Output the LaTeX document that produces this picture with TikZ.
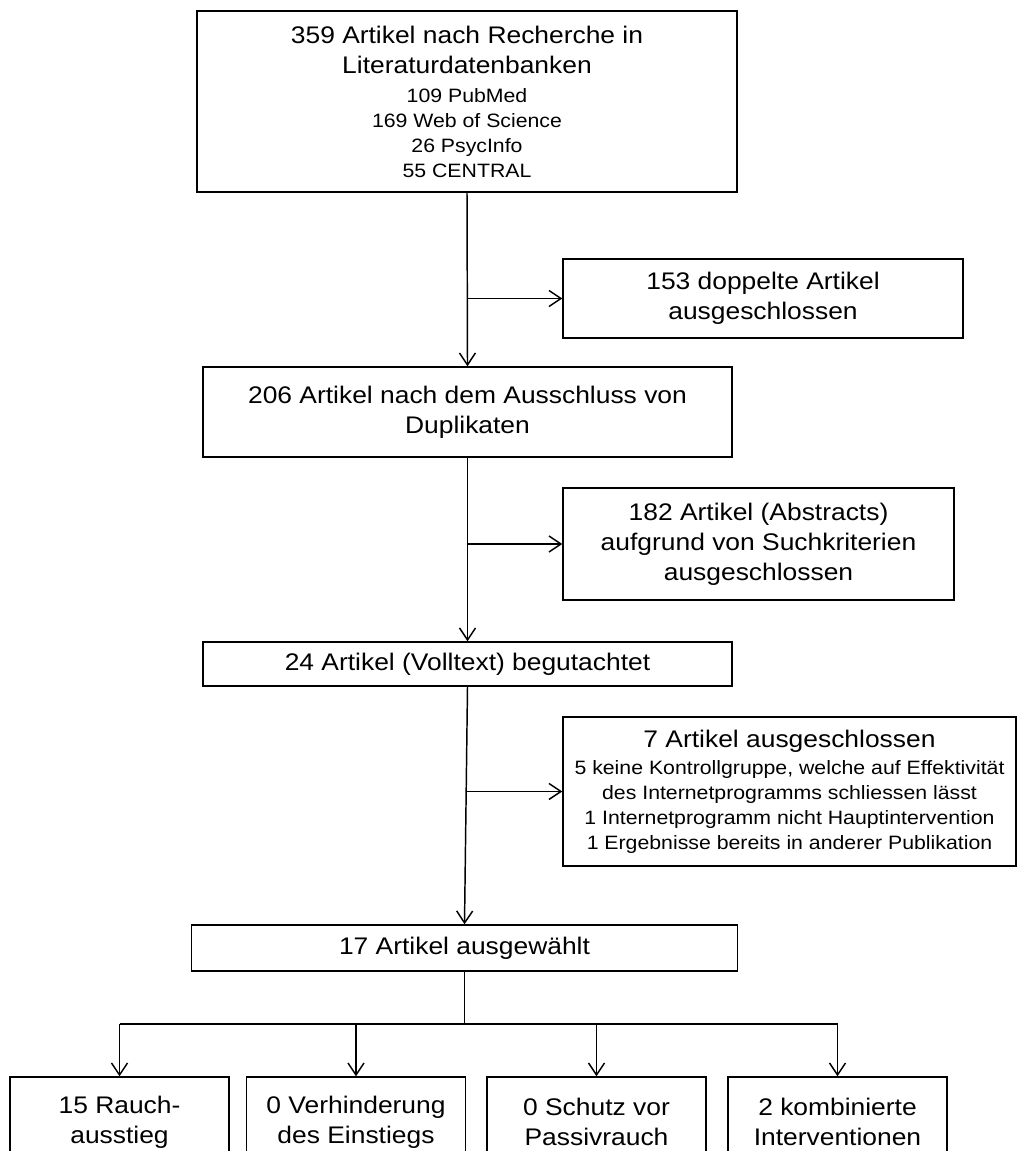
\documentclass[tikz,border=0pt]{standalone}
\usepackage{fontspec}
\setmainfont{Liberation Sans}[FakeStretch=1.1]
\usetikzlibrary{arrows.meta,calc}
\newcommand\smalltxt{\fontsize{14.5pt}{18.75pt}\selectfont}
\begin{document}
\begin{tikzpicture}[x=0.75pt,y=-0.75pt,
  box/.style={draw, line width=1.1pt, inner sep=0pt, align=center,
    font=\fontsize{18pt}{22.5pt}\selectfont},
  conn/.style={line width=1.1pt},
  arr/.style={conn, -{Straight Barb[length=9pt,width=12pt]}}]
\fill[white] (0,0) rectangle (1018,1151);
\useasboundingbox (0,0) rectangle (1018,1151);

\node[box, minimum width=405pt, minimum height=135.75pt] (top) at (467,101.5)
  {359 Artikel nach Recherche in\\Literaturdatenbanken\\[-0.75pt]{\smalltxt 109 PubMed}\\[-3.75pt]{\smalltxt 169 Web of Science}\\[-3.75pt]{\smalltxt 26 PsycInfo}\\[-3.75pt]{\smalltxt 55 CENTRAL}};
\node[box, minimum width=300pt, minimum height=59.25pt] (b153) at (763,298.5)
  {153 doppelte Artikel\\ausgeschlossen};
\node[box, minimum width=396.75pt, minimum height=67.5pt] (b206) at (467.5,412)
  {206 Artikel nach dem Ausschluss von\\Duplikaten};
\node[box, minimum width=293.25pt, minimum height=84pt] (b182) at (758.5,544)
  {182 Artikel (Abstracts)\\aufgrund von Suchkriterien\\ausgeschlossen};
\node[box, minimum width=396.75pt, minimum height=33pt] (b24) at (467.5,664)
  {24 Artikel (Volltext) begutachtet};
\node[box, minimum width=339.75pt, minimum height=111.75pt] (b7) at (789.5,791.5)
  {7 Artikel ausgeschlossen\\[-2.25pt]{\smalltxt 5 keine Kontrollgruppe, welche auf Effektivität}\\[-3.75pt]{\smalltxt des Internetprogramms schliessen lässt}\\[-3.75pt]{\smalltxt 1 Internetprogramm nicht Hauptintervention}\\[-3.75pt]{\smalltxt 1 Ergebnisse bereits in anderer Publikation}};
\node[box, minimum width=409.5pt, minimum height=34.5pt] (b17) at (464.5,948)
  {17 Artikel ausgewählt};
\node[box, minimum width=164.25pt, minimum height=67.5pt] (bo1) at (119.5,1122)
  {15 Rauch-\\ausstieg};
\node[box, minimum width=164.25pt, minimum height=67.5pt] (bo2) at (356,1122)
  {0 Verhinderung\\des Einstiegs};
\node[box, minimum width=164.25pt, minimum height=67.5pt] (bo3) at (596.5,1122)
  {0 Schutz vor\\Passivrauch};
\node[box, minimum width=164.25pt, minimum height=67.5pt] (bo4) at (837.5,1122)
  {2 kombinierte\\Interventionen};

\draw[arr] (top.south) -- (b206.north);
\coordinate (j1) at (top.south |- b153.west);
\draw[arr] (j1) -- (b153.west);
\draw[arr] (b206.south) -- (b24.north);
\coordinate (j2) at (b206.south |- b182.west);
\draw[arr] (j2) -- (b182.west);
\draw[arr] (b24.south) -- (b17.north);
\coordinate (j3) at ($(b24.south)!0.441!(b17.north)$);
\draw[arr] (j3) -- (j3 -| b7.west);
\coordinate (brl) at (0,1024);
\draw[conn] (b17.south) -- (b17.south |- brl);
\draw[conn] (bo1.north |- brl) -- (bo4.north |- brl);
\draw[arr] (bo1.north |- brl) -- (bo1.north);
\draw[arr] (bo2.north |- brl) -- (bo2.north);
\draw[arr] (bo3.north |- brl) -- (bo3.north);
\draw[arr] (bo4.north |- brl) -- (bo4.north);
\end{tikzpicture}
\end{document}
